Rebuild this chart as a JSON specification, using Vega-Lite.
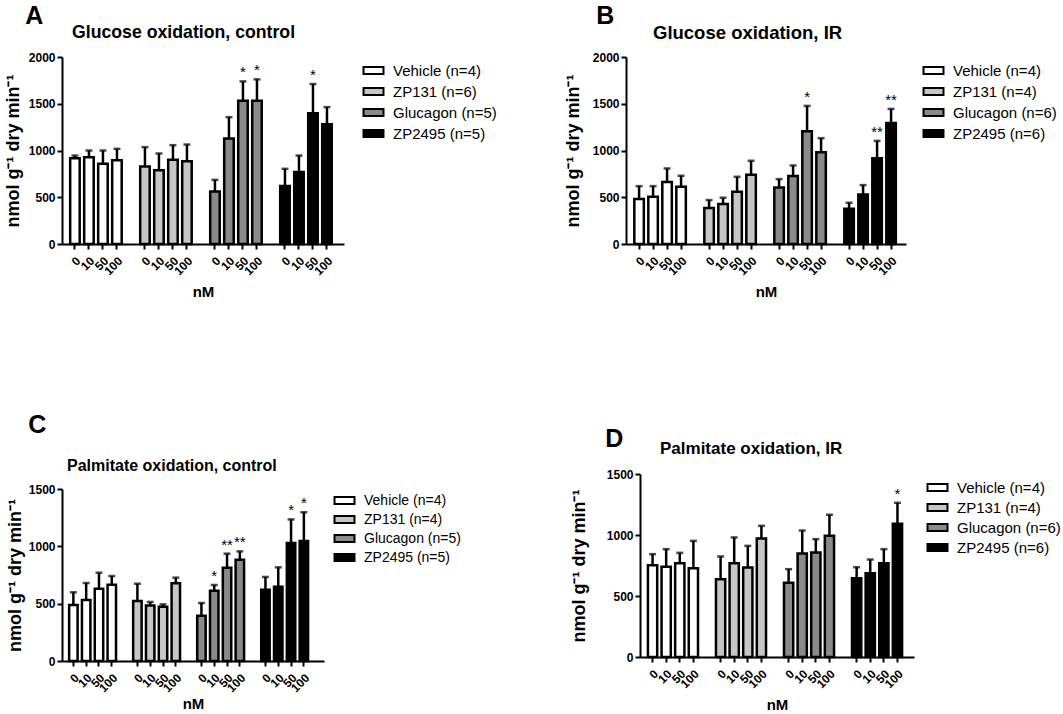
{
  "$schema": "https://vega.github.io/schema/vega-lite/v6.json",
  "padding": {"left": 4, "top": 3, "right": 5, "bottom": 5},
  "background": "white",
  "datasets": {
    "A": [
      {"g": "Vehicle (n=4)", "k": "Vehicle 0", "mean": 918, "upper": 946, "sig": ""},
      {"g": "Vehicle (n=4)", "k": "Vehicle 10", "mean": 929, "upper": 1000, "sig": ""},
      {"g": "Vehicle (n=4)", "k": "Vehicle 50", "mean": 857, "upper": 1000, "sig": ""},
      {"g": "Vehicle (n=4)", "k": "Vehicle 100", "mean": 896, "upper": 1018, "sig": ""},
      {"g": "ZP131 (n=6)", "k": "ZP131 0", "mean": 829, "upper": 1036, "sig": ""},
      {"g": "ZP131 (n=6)", "k": "ZP131 10", "mean": 789, "upper": 968, "sig": ""},
      {"g": "ZP131 (n=6)", "k": "ZP131 50", "mean": 900, "upper": 1057, "sig": ""},
      {"g": "ZP131 (n=6)", "k": "ZP131 100", "mean": 886, "upper": 1064, "sig": ""},
      {"g": "Glucagon (n=5)", "k": "Glucagon 0", "mean": 561, "upper": 686, "sig": ""},
      {"g": "Glucagon (n=5)", "k": "Glucagon 10", "mean": 1129, "upper": 1357, "sig": ""},
      {"g": "Glucagon (n=5)", "k": "Glucagon 50", "mean": 1532, "upper": 1739, "sig": "*"},
      {"g": "Glucagon (n=5)", "k": "Glucagon 100", "mean": 1532, "upper": 1761, "sig": "*"},
      {"g": "ZP2495 (n=5)", "k": "ZP2495 0", "mean": 621, "upper": 804, "sig": ""},
      {"g": "ZP2495 (n=5)", "k": "ZP2495 10", "mean": 770, "upper": 946, "sig": ""},
      {"g": "ZP2495 (n=5)", "k": "ZP2495 50", "mean": 1398, "upper": 1711, "sig": "*"},
      {"g": "ZP2495 (n=5)", "k": "ZP2495 100", "mean": 1282, "upper": 1464, "sig": ""}
    ],
    "B": [
      {"g": "Vehicle (n=4)", "k": "Vehicle 0", "mean": 480, "upper": 619, "sig": ""},
      {"g": "Vehicle (n=4)", "k": "Vehicle 10", "mean": 505, "upper": 619, "sig": ""},
      {"g": "Vehicle (n=4)", "k": "Vehicle 50", "mean": 662, "upper": 808, "sig": ""},
      {"g": "Vehicle (n=4)", "k": "Vehicle 100", "mean": 612, "upper": 730, "sig": ""},
      {"g": "ZP131 (n=4)", "k": "ZP131 0", "mean": 384, "upper": 470, "sig": ""},
      {"g": "ZP131 (n=4)", "k": "ZP131 10", "mean": 427, "upper": 495, "sig": ""},
      {"g": "ZP131 (n=4)", "k": "ZP131 50", "mean": 559, "upper": 719, "sig": ""},
      {"g": "ZP131 (n=4)", "k": "ZP131 100", "mean": 740, "upper": 890, "sig": ""},
      {"g": "Glucagon (n=6)", "k": "Glucagon 0", "mean": 605, "upper": 694, "sig": ""},
      {"g": "Glucagon (n=6)", "k": "Glucagon 10", "mean": 726, "upper": 840, "sig": ""},
      {"g": "Glucagon (n=6)", "k": "Glucagon 50", "mean": 1206, "upper": 1477, "sig": "*"},
      {"g": "Glucagon (n=6)", "k": "Glucagon 100", "mean": 982, "upper": 1132, "sig": ""},
      {"g": "ZP2495 (n=6)", "k": "ZP2495 0", "mean": 377, "upper": 441, "sig": ""},
      {"g": "ZP2495 (n=6)", "k": "ZP2495 10", "mean": 530, "upper": 630, "sig": ""},
      {"g": "ZP2495 (n=6)", "k": "ZP2495 50", "mean": 918, "upper": 1103, "sig": "**"},
      {"g": "ZP2495 (n=6)", "k": "ZP2495 100", "mean": 1295, "upper": 1445, "sig": "**"}
    ],
    "C": [
      {"g": "Vehicle (n=4)", "k": "Vehicle 0", "mean": 488, "upper": 599, "sig": ""},
      {"g": "Vehicle (n=4)", "k": "Vehicle 10", "mean": 532, "upper": 680, "sig": ""},
      {"g": "Vehicle (n=4)", "k": "Vehicle 50", "mean": 631, "upper": 770, "sig": ""},
      {"g": "Vehicle (n=4)", "k": "Vehicle 100", "mean": 666, "upper": 741, "sig": ""},
      {"g": "ZP131 (n=4)", "k": "ZP131 0", "mean": 523, "upper": 674, "sig": ""},
      {"g": "ZP131 (n=4)", "k": "ZP131 10", "mean": 485, "upper": 515, "sig": ""},
      {"g": "ZP131 (n=4)", "k": "ZP131 50", "mean": 474, "upper": 494, "sig": ""},
      {"g": "ZP131 (n=4)", "k": "ZP131 100", "mean": 677, "upper": 727, "sig": ""},
      {"g": "Glucagon (n=5)", "k": "Glucagon 0", "mean": 395, "upper": 506, "sig": ""},
      {"g": "Glucagon (n=5)", "k": "Glucagon 10", "mean": 613, "upper": 663, "sig": "*"},
      {"g": "Glucagon (n=5)", "k": "Glucagon 50", "mean": 814, "upper": 936, "sig": "**"},
      {"g": "Glucagon (n=5)", "k": "Glucagon 100", "mean": 884, "upper": 956, "sig": "**"},
      {"g": "ZP2495 (n=5)", "k": "ZP2495 0", "mean": 622, "upper": 733, "sig": ""},
      {"g": "ZP2495 (n=5)", "k": "ZP2495 10", "mean": 648, "upper": 817, "sig": ""},
      {"g": "ZP2495 (n=5)", "k": "ZP2495 50", "mean": 1029, "upper": 1235, "sig": "*"},
      {"g": "ZP2495 (n=5)", "k": "ZP2495 100", "mean": 1047, "upper": 1297, "sig": "*"}
    ],
    "D": [
      {"g": "Vehicle (n=4)", "k": "Vehicle 0", "mean": 753, "upper": 843, "sig": ""},
      {"g": "Vehicle (n=4)", "k": "Vehicle 10", "mean": 739, "upper": 884, "sig": ""},
      {"g": "Vehicle (n=4)", "k": "Vehicle 50", "mean": 769, "upper": 854, "sig": ""},
      {"g": "Vehicle (n=4)", "k": "Vehicle 100", "mean": 728, "upper": 952, "sig": ""},
      {"g": "ZP131 (n=4)", "k": "ZP131 0", "mean": 638, "upper": 824, "sig": ""},
      {"g": "ZP131 (n=4)", "k": "ZP131 10", "mean": 769, "upper": 980, "sig": ""},
      {"g": "ZP131 (n=4)", "k": "ZP131 50", "mean": 733, "upper": 911, "sig": ""},
      {"g": "ZP131 (n=4)", "k": "ZP131 100", "mean": 972, "upper": 1075, "sig": ""},
      {"g": "Glucagon (n=6)", "k": "Glucagon 0", "mean": 608, "upper": 720, "sig": ""},
      {"g": "Glucagon (n=6)", "k": "Glucagon 10", "mean": 848, "upper": 1037, "sig": ""},
      {"g": "Glucagon (n=6)", "k": "Glucagon 50", "mean": 857, "upper": 966, "sig": ""},
      {"g": "Glucagon (n=6)", "k": "Glucagon 100", "mean": 993, "upper": 1166, "sig": ""},
      {"g": "ZP2495 (n=6)", "k": "ZP2495 0", "mean": 646, "upper": 736, "sig": ""},
      {"g": "ZP2495 (n=6)", "k": "ZP2495 10", "mean": 687, "upper": 799, "sig": ""},
      {"g": "ZP2495 (n=6)", "k": "ZP2495 50", "mean": 769, "upper": 884, "sig": ""},
      {"g": "ZP2495 (n=6)", "k": "ZP2495 100", "mean": 1092, "upper": 1264, "sig": "*"}
    ]
  },
  "resolve": {"scale": {"fill": "independent", "y": "independent", "x": "independent"}, "legend": {"fill": "independent"}},
  "spacing": 61,
  "hconcat": [
    {
      "resolve": {"scale": {"fill": "independent", "y": "independent", "x": "independent"}, "legend": {"fill": "independent"}},
      "columns": 1, "align": "none",
      "spacing": 113,
      "concat": [
        {
          "title": {"text": "A", "anchor": "start", "fontSize": 25, "dx": 21, "offset": -5},
          "resolve": {"scale": {"fill": "independent"}, "legend": {"fill": "independent"}},
          "vconcat": [
            {
              "width": 282, "height": 187,
              "title": {"text": "Glucose oxidation, control", "anchor": "start", "frame": "group", "fontSize": 17.7, "dx": 10, "offset": 9},
              "data": {"name": "A"},
              "encoding": {
                "x": {"field": "k", "type": "nominal", "sort": null, "title": "nM",
                  "scale": {"domain": ["Vehicle 0", "Vehicle 10", "Vehicle 50", "Vehicle 100", "s1", "ZP131 0", "ZP131 10", "ZP131 50", "ZP131 100", "s2", "Glucagon 0", "Glucagon 10", "Glucagon 50", "Glucagon 100", "s3", "ZP2495 0", "ZP2495 10", "ZP2495 50", "ZP2495 100"], "paddingInner": 0.32, "paddingOuter": 0.73, "align": 0.4},
                  "axis": {"values": ["Vehicle 0", "Vehicle 10", "Vehicle 50", "Vehicle 100", "ZP131 0", "ZP131 10", "ZP131 50", "ZP131 100", "Glucagon 0", "Glucagon 10", "Glucagon 50", "Glucagon 100", "ZP2495 0", "ZP2495 10", "ZP2495 50", "ZP2495 100"], "labelExpr": "split(datum.value, ' ')[1]"}}
              },
              "layer": [
                {"mark": {"type": "bar", "stroke": "black", "strokeWidth": 2.5},
                 "encoding": {
                   "y": {"field": "mean", "type": "quantitative", "title": "nmol g⁻¹ dry min⁻¹", "scale": {"domain": [0, 2000], "nice": false}, "axis": {"values": [0, 500, 1000, 1500, 2000], "titlePadding": 6}},
                   "fill": {"field": "g", "type": "nominal", "scale": {"domain": ["Vehicle (n=4)", "ZP131 (n=6)", "Glucagon (n=5)", "ZP2495 (n=5)"], "range": ["#ffffff", "#c6c6c6", "#8a8a8a", "#000000"]}, "legend": {"title": null, "offset": 16}}}},
                {"mark": {"type": "rule", "strokeWidth": 2.5, "color": "black"},
                 "encoding": {"y": {"field": "mean", "type": "quantitative", "title": "nmol g⁻¹ dry min⁻¹"}, "y2": {"field": "upper"}}},
                {"mark": {"type": "tick", "thickness": 2.5, "size": 7, "color": "black"},
                 "encoding": {"y": {"field": "upper", "type": "quantitative", "title": "nmol g⁻¹ dry min⁻¹"}}},
                {"mark": {"type": "text", "dy": -9, "fontSize": 15, "color": "black"},
                 "encoding": {"y": {"field": "upper", "type": "quantitative", "title": "nmol g⁻¹ dry min⁻¹"}, "text": {"field": "sig"}}}
              ]
            }
          ]
        },
        {
          "title": {"text": "C", "anchor": "start", "fontSize": 25, "dx": 22, "offset": 20},
          "resolve": {"scale": {"fill": "independent"}, "legend": {"fill": "independent"}},
          "vconcat": [
            {
              "width": 262, "height": 172,
              "title": {"text": "Palmitate oxidation, control", "anchor": "start", "frame": "group", "fontSize": 16, "dx": 5, "offset": 9},
              "data": {"name": "C"},
              "encoding": {
                "x": {"field": "k", "type": "nominal", "sort": null, "title": "nM",
                  "scale": {"domain": ["Vehicle 0", "Vehicle 10", "Vehicle 50", "Vehicle 100", "s1", "ZP131 0", "ZP131 10", "ZP131 50", "ZP131 100", "s2", "Glucagon 0", "Glucagon 10", "Glucagon 50", "Glucagon 100", "s3", "ZP2495 0", "ZP2495 10", "ZP2495 50", "ZP2495 100"], "paddingInner": 0.34, "paddingOuter": 0.9, "align": 0.31},
                  "axis": {"values": ["Vehicle 0", "Vehicle 10", "Vehicle 50", "Vehicle 100", "ZP131 0", "ZP131 10", "ZP131 50", "ZP131 100", "Glucagon 0", "Glucagon 10", "Glucagon 50", "Glucagon 100", "ZP2495 0", "ZP2495 10", "ZP2495 50", "ZP2495 100"], "labelExpr": "split(datum.value, ' ')[1]", "titlePadding": 3}}
              },
              "layer": [
                {"mark": {"type": "bar", "stroke": "black", "strokeWidth": 2.5},
                 "encoding": {
                   "y": {"field": "mean", "type": "quantitative", "title": "nmol g⁻¹ dry min⁻¹", "scale": {"domain": [0, 1500], "nice": false}, "axis": {"values": [0, 500, 1000, 1500], "titlePadding": 4}},
                   "fill": {"field": "g", "type": "nominal", "scale": {"domain": ["Vehicle (n=4)", "ZP131 (n=4)", "Glucagon (n=5)", "ZP2495 (n=5)"], "range": ["#ffffff", "#c6c6c6", "#8a8a8a", "#000000"]}, "legend": {"title": null, "offset": 9, "rowPadding": 4, "labelFontSize": 14, "padding": 4}}}},
                {"mark": {"type": "rule", "strokeWidth": 2.5, "color": "black"},
                 "encoding": {"y": {"field": "mean", "type": "quantitative", "title": "nmol g⁻¹ dry min⁻¹"}, "y2": {"field": "upper"}}},
                {"mark": {"type": "tick", "thickness": 2.5, "size": 7, "color": "black"},
                 "encoding": {"y": {"field": "upper", "type": "quantitative", "title": "nmol g⁻¹ dry min⁻¹"}}},
                {"mark": {"type": "text", "dy": -9, "fontSize": 15, "color": "black"},
                 "encoding": {"y": {"field": "upper", "type": "quantitative", "title": "nmol g⁻¹ dry min⁻¹"}, "text": {"field": "sig"}}}
              ]
            }
          ]
        }
      ]
    },
    {
      "resolve": {"scale": {"fill": "independent", "y": "independent", "x": "independent"}, "legend": {"fill": "independent"}},
      "columns": 1, "align": "none",
      "spacing": 127,
      "concat": [
        {
          "title": {"text": "B", "anchor": "start", "fontSize": 25, "dx": 32, "offset": -5},
          "resolve": {"scale": {"fill": "independent"}, "legend": {"fill": "independent"}},
          "vconcat": [
            {
              "width": 280, "height": 187,
              "title": {"text": "Glucose oxidation, IR", "anchor": "start", "frame": "group", "fontSize": 18.5, "dx": 27, "offset": 9},
              "data": {"name": "B"},
              "encoding": {
                "x": {"field": "k", "type": "nominal", "sort": null, "title": "nM",
                  "scale": {"domain": ["Vehicle 0", "Vehicle 10", "Vehicle 50", "Vehicle 100", "s1", "ZP131 0", "ZP131 10", "ZP131 50", "ZP131 100", "s2", "Glucagon 0", "Glucagon 10", "Glucagon 50", "Glucagon 100", "s3", "ZP2495 0", "ZP2495 10", "ZP2495 50", "ZP2495 100"], "paddingInner": 0.32, "paddingOuter": 0.66, "align": 0.45},
                  "axis": {"values": ["Vehicle 0", "Vehicle 10", "Vehicle 50", "Vehicle 100", "ZP131 0", "ZP131 10", "ZP131 50", "ZP131 100", "Glucagon 0", "Glucagon 10", "Glucagon 50", "Glucagon 100", "ZP2495 0", "ZP2495 10", "ZP2495 50", "ZP2495 100"], "labelExpr": "split(datum.value, ' ')[1]"}}
              },
              "layer": [
                {"mark": {"type": "bar", "stroke": "black", "strokeWidth": 2.5},
                 "encoding": {
                   "y": {"field": "mean", "type": "quantitative", "title": "nmol g⁻¹ dry min⁻¹", "scale": {"domain": [0, 2000], "nice": false}, "axis": {"values": [0, 500, 1000, 1500, 2000], "titlePadding": 10}},
                   "fill": {"field": "g", "type": "nominal", "scale": {"domain": ["Vehicle (n=4)", "ZP131 (n=4)", "Glucagon (n=6)", "ZP2495 (n=6)"], "range": ["#ffffff", "#c6c6c6", "#8a8a8a", "#000000"]}, "legend": {"title": null, "offset": 14}}}},
                {"mark": {"type": "rule", "strokeWidth": 2.5, "color": "black"},
                 "encoding": {"y": {"field": "mean", "type": "quantitative", "title": "nmol g⁻¹ dry min⁻¹"}, "y2": {"field": "upper"}}},
                {"mark": {"type": "tick", "thickness": 2.5, "size": 7, "color": "black"},
                 "encoding": {"y": {"field": "upper", "type": "quantitative", "title": "nmol g⁻¹ dry min⁻¹"}}},
                {"mark": {"type": "text", "dy": -9, "fontSize": 15, "color": "black"},
                 "encoding": {"y": {"field": "upper", "type": "quantitative", "title": "nmol g⁻¹ dry min⁻¹"}, "text": {"field": "sig"}}}
              ]
            }
          ]
        },
        {
          "title": {"text": "D", "anchor": "start", "fontSize": 25, "dx": 35, "offset": -12},
          "resolve": {"scale": {"fill": "independent"}, "legend": {"fill": "independent"}},
          "vconcat": [
            {
              "width": 288, "height": 183,
              "title": {"text": "Palmitate oxidation, IR", "anchor": "start", "frame": "group", "fontSize": 17, "dx": 34, "offset": 10},
              "data": {"name": "D"},
              "encoding": {
                "x": {"field": "k", "type": "nominal", "sort": null, "title": "nM",
                  "scale": {"domain": ["Vehicle 0", "Vehicle 10", "Vehicle 50", "Vehicle 100", "s1", "ZP131 0", "ZP131 10", "ZP131 50", "ZP131 100", "s2", "Glucagon 0", "Glucagon 10", "Glucagon 50", "Glucagon 100", "s3", "ZP2495 0", "ZP2495 10", "ZP2495 50", "ZP2495 100"], "range": [14, 288], "paddingInner": 0.32, "paddingOuter": 0.73, "align": 0.4},
                  "axis": {"values": ["Vehicle 0", "Vehicle 10", "Vehicle 50", "Vehicle 100", "ZP131 0", "ZP131 10", "ZP131 50", "ZP131 100", "Glucagon 0", "Glucagon 10", "Glucagon 50", "Glucagon 100", "ZP2495 0", "ZP2495 10", "ZP2495 50", "ZP2495 100"], "labelExpr": "split(datum.value, ' ')[1]"}}
              },
              "layer": [
                {"mark": {"type": "bar", "stroke": "black", "strokeWidth": 2.5},
                 "encoding": {
                   "y": {"field": "mean", "type": "quantitative", "title": "nmol g⁻¹ dry min⁻¹", "scale": {"domain": [0, 1500], "nice": false}, "axis": {"values": [0, 500, 1000, 1500], "titlePadding": 18, "offset": -14}},
                   "fill": {"field": "g", "type": "nominal", "scale": {"domain": ["Vehicle (n=4)", "ZP131 (n=4)", "Glucagon (n=6)", "ZP2495 (n=6)"], "range": ["#ffffff", "#c6c6c6", "#8a8a8a", "#000000"]}, "legend": {"title": null, "offset": 10, "rowPadding": 4}}}},
                {"mark": {"type": "rule", "strokeWidth": 2.5, "color": "black"},
                 "encoding": {"y": {"field": "mean", "type": "quantitative", "title": "nmol g⁻¹ dry min⁻¹"}, "y2": {"field": "upper"}}},
                {"mark": {"type": "tick", "thickness": 2.5, "size": 7, "color": "black"},
                 "encoding": {"y": {"field": "upper", "type": "quantitative", "title": "nmol g⁻¹ dry min⁻¹"}}},
                {"mark": {"type": "text", "dy": -9, "fontSize": 15, "color": "black"},
                 "encoding": {"y": {"field": "upper", "type": "quantitative", "title": "nmol g⁻¹ dry min⁻¹"}, "text": {"field": "sig"}}}
              ]
            }
          ]
        }
      ]
    }
  ],
  "config": {
    "font": "Liberation Sans",
    "view": {"stroke": null},
    "title": {"font": "Liberation Sans", "fontWeight": "bold", "color": "black"},
    "axis": {
      "grid": false,
      "domainColor": "black", "domainWidth": 2,
      "tickColor": "black", "tickWidth": 2, "tickSize": 5,
      "labelFont": "Liberation Sans", "labelFontWeight": "bold", "labelFontSize": 12, "labelColor": "black", "labelPadding": 2,
      "titleFont": "Liberation Sans", "titleFontWeight": "bold", "titleFontSize": 18, "titleColor": "black"
    },
    "axisX": {"labelAngle": -45, "labelPadding": 6, "titlePadding": 8, "titleFontSize": 15},
    "axisY": {"format": "d"},
    "legend": {
      "labelFont": "Liberation Sans", "labelFontSize": 15, "labelColor": "black",
      "symbolType": "M-1.6,-0.55H1.6V0.55H-1.6Z", "symbolSize": 156,
      "symbolStrokeColor": "black", "symbolStrokeWidth": 2,
      "rowPadding": 5, "labelOffset": 12, "padding": 6
    }
  }
}
